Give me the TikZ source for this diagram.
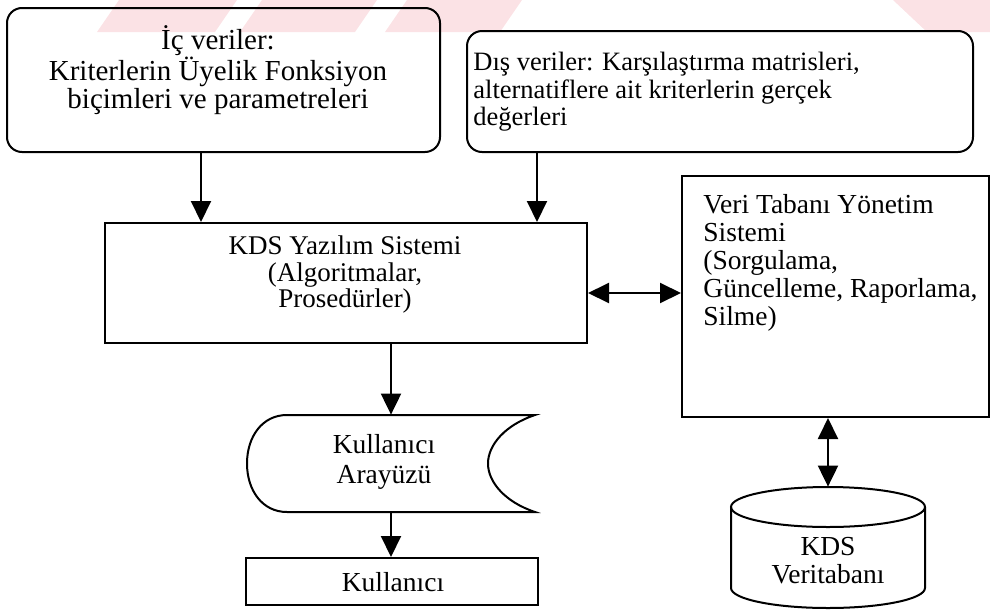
\documentclass[tikz,border=0pt]{standalone}
\usepackage{fontspec}
\setmainfont{Liberation Serif}
\usepackage{tikz}
\usetikzlibrary{arrows.meta}
\definecolor{wmpink}{RGB}{251,226,229}

\tikzset{
  box/.style={draw=black,line width=1pt,inner sep=0pt},
  rbox/.style={box,rounded corners=7.5pt},
  txt/.style={inner sep=0pt,font=\fontsize{13.75}{14}\selectfont},
  arr/.style={line width=1pt,-{Triangle[length=10.5pt,width=10pt]}},
  darr/.style={line width=1pt,{Triangle[length=10.5pt,width=10pt]}-{Triangle[length=10.5pt,width=10pt]}}
}

\begin{document}
\begin{tikzpicture}[x=0.5pt,y=-0.5pt]
\useasboundingbox (0,0) rectangle (990,611);
% filigran
\fill[wmpink] (97,32) -- (119,0) -- (237,0) -- (215,32) -- cycle;
\fill[wmpink] (240,32) -- (262,0) -- (377,0) -- (355,32) -- cycle;
\fill[wmpink] (385,32) -- (407,0) -- (522,0) -- (500,32) -- cycle;
\fill[wmpink] (927,32) -- (893,0) -- (990,0) -- (990,32) -- cycle;

\node[rbox,minimum width=216.5pt,minimum height=72pt] (icv) at (223.5,80) {};
\node[txt,align=center,font=\fontsize{14.5}{14}\selectfont] (icvtext) at (218,70) {İç veriler:\\Kriterlerin Üyelik Fonksiyon\\biçimleri ve parametreleri};
\node[rbox,minimum width=253pt,minimum height=60.5pt] (dsv) at (720,91.5) {};
\node[txt,align=left,anchor=west,font=\fontsize{13.25}{13.75}\selectfont] (dsvtext) at (473,92) {Dış veriler: Karşılaştırma matrisleri,\\alternatiflere ait kriterlerin gerçek\\değerleri};
\node[box,minimum width=241pt,minimum height=60pt] (kds) at (346,283) {};
\node[txt,align=center,font=\fontsize{13.5}{13.25}\selectfont] (kdstext) at (345,275) {KDS Yazılım Sistemi\\(Algoritmalar,\\Prosedürler)};
\node[box,minimum width=153.5pt,minimum height=120.5pt] (vtys) at (835.5,296.5) {};
\node[txt,align=left,anchor=west] (vtystext) at (703,263) {Veri Tabanı Yönetim\\Sistemi\\(Sorgulama,\\Güncelleme, Raporlama,\\Silme)};

% kullanici arayuzu
\node[minimum width=144pt,minimum height=48.5pt,inner sep=0pt] (ui) at (391,463.5) {};
\draw[line width=1pt] (287,415) -- (535,415) .. controls (505,425) and (488,445) .. (488,463.5) .. controls (488,482) and (505,502) .. (535,512) -- (287,512) .. controls (262,512) and (247,490) .. (247,463.5) .. controls (247,437) and (262,415) .. (287,415) -- cycle;
\node[txt,align=center,font=\fontsize{13.75}{15}\selectfont] (uitext) at (384,462) {Kullanıcı\\Arayüzü};
\node[box,minimum width=146pt,minimum height=23.5pt] (user) at (392,581.5) {};
\node[txt] (usertext) at (393,582) {Kullanıcı};

% veritabani
\node[minimum width=97pt,minimum height=60.5pt,inner sep=0pt] (db) at (828,547.5) {};
\draw[line width=1pt] (731,507) -- (731,588) arc[start angle=180,end angle=360,x radius=48.5pt,y radius=10pt] -- (925,507);
\draw[line width=1pt] (828,507) ellipse[x radius=48.5pt,y radius=10pt];
\node[txt,align=center] (dbtext) at (828,561) {KDS\\Veritabanı};

% oklar
\draw[arr] (icv.south -| 201,0) -- (kds.north -| 201,0);
\draw[arr] (dsv.south -| 537,0) -- (kds.north -| 537,0);
\draw[darr] ([yshift=-5pt]kds.east) -- ([yshift=-5pt]kds.east -| vtys.west);
\draw[arr] (kds.south -| ui.north) -- (ui.north);
\draw[arr] (ui.south) -- (ui.south |- user.north);
\draw[darr] (db.north |- vtys.south) -- (db.north);
\end{tikzpicture}
\end{document}
